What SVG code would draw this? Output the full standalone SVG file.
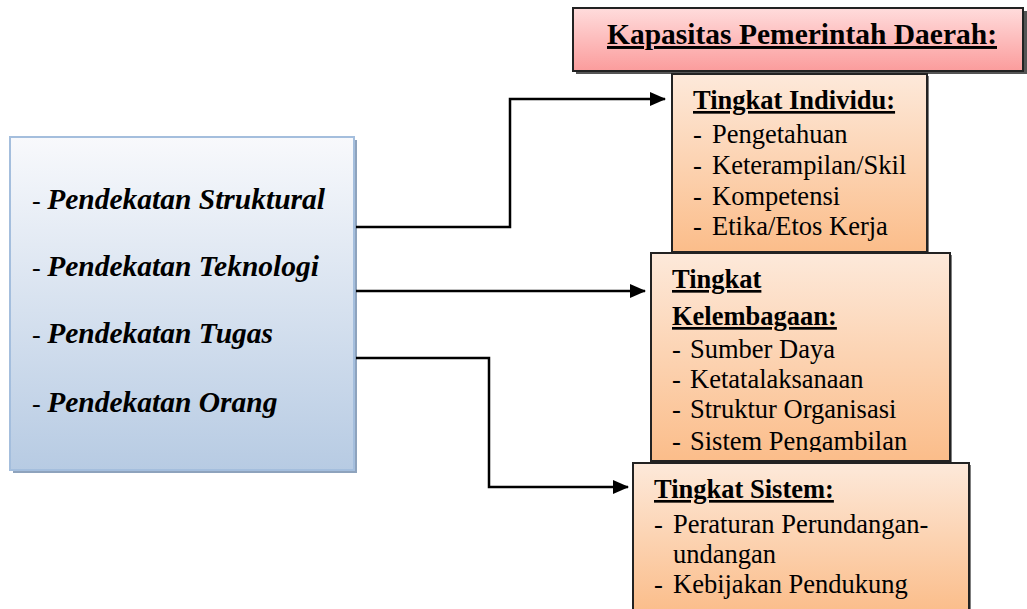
<svg xmlns="http://www.w3.org/2000/svg" width="1027" height="609" viewBox="0 0 1027 609">
<defs>
<linearGradient id="gPink" x1="0" y1="0" x2="0" y2="1"><stop offset="0" stop-color="#ffdcdc"/><stop offset="1" stop-color="#fb9c9c"/></linearGradient>
<linearGradient id="gOrange" x1="0" y1="0" x2="0" y2="1"><stop offset="0" stop-color="#fde9da"/><stop offset="1" stop-color="#fbbd8a"/></linearGradient>
<linearGradient id="gBlue" x1="0" y1="0" x2="0" y2="1"><stop offset="0" stop-color="#f8f9fc"/><stop offset="1" stop-color="#b7cbe3"/></linearGradient>
<marker id="arr" markerWidth="16" markerHeight="14" refX="15" refY="7" orient="auto" markerUnits="userSpaceOnUse"><path d="M0,0 L16,7 L0,14 Z" fill="#000"/></marker>
<clipPath id="clipK"><rect x="651" y="253" width="299" height="199"/></clipPath>
<style>
.t{font-family:"Liberation Serif","Times New Roman",serif;fill:#000}
.h{font-weight:bold;text-decoration:underline}
.b{font-size:26.5px}
.l{font-size:29.5px;font-weight:bold;font-style:italic}
.d{font-size:26px;font-style:normal;font-weight:normal}
.conn{fill:none;stroke:#000;stroke-width:2.5}
.sh{fill:#7f7f7f}
.ob{fill:url(#gOrange);stroke:#222;stroke-width:2}
</style>
</defs>
<g id="approaches">
<rect x="13" y="140" width="344" height="333" fill="#8ea3bd"/>
<rect x="10" y="137" width="344" height="333" fill="url(#gBlue)" stroke="#a4bedd" stroke-width="2"/>
<text class="t l" x="32" y="209"><tspan class="d">- </tspan>Pendekatan Struktural</text>
<text class="t l" x="32" y="276"><tspan class="d">- </tspan>Pendekatan Teknologi</text>
<text class="t l" x="32" y="343"><tspan class="d">- </tspan>Pendekatan Tugas</text>
<text class="t l" x="32" y="412"><tspan class="d">- </tspan>Pendekatan Orang</text>
</g>
<g id="title">
<rect x="576" y="11" width="451" height="63" fill="#555"/>
<rect x="573" y="8" width="450" height="63" fill="url(#gPink)" stroke="#222" stroke-width="2"/>
<text class="t h" x="802" y="44" text-anchor="middle" font-size="29.5">Kapasitas Pemerintah Daerah:</text>
</g>
<g id="individu">
<rect x="674" y="76" width="255" height="178" class="sh"/>
<rect x="672" y="74" width="255" height="178" class="ob"/>
<text class="t h b" x="693" y="109">Tingkat Individu:</text>
<text class="t b" x="693" y="143">-<tspan x="712">Pengetahuan</tspan></text>
<text class="t b" x="693" y="174">-<tspan x="712">Keterampilan/Skil</tspan></text>
<text class="t b" x="693" y="205">-<tspan x="712">Kompetensi</tspan></text>
<text class="t b" x="693" y="235">-<tspan x="712">Etika/Etos Kerja</tspan></text>
</g>
<g id="kelembagaan">
<rect x="653" y="255" width="299" height="208" class="sh"/>
<rect x="651" y="253" width="299" height="208" class="ob"/>
<g clip-path="url(#clipK)">
<text class="t h b" x="672" y="288">Tingkat</text>
<text class="t h b" x="672" y="325">Kelembagaan:</text>
<text class="t b" x="672" y="358">-<tspan x="690">Sumber Daya</tspan></text>
<text class="t b" x="672" y="388">-<tspan x="690">Ketatalaksanaan</tspan></text>
<text class="t b" x="672" y="418">-<tspan x="690">Struktur Organisasi</tspan></text>
<text class="t b" x="672" y="450">-<tspan x="690">Sistem Pengambilan</tspan></text>
</g>
</g>
<g id="sistem">
<rect x="635" y="465" width="336" height="150" class="sh"/>
<rect x="633" y="463" width="336" height="150" class="ob"/>
<text class="t h b" x="654" y="498">Tingkat Sistem:</text>
<text class="t b" x="654" y="533">-<tspan x="673">Peraturan Perundangan-</tspan></text>
<text class="t b" x="673" y="563">undangan</text>
<text class="t b" x="654" y="593">-<tspan x="673">Kebijakan Pendukung</tspan></text>
</g>
<g id="connectors">
<path class="conn" d="M356,227 H510 V99 H665" marker-end="url(#arr)"/>
<path class="conn" d="M356,291 H645" marker-end="url(#arr)"/>
<path class="conn" d="M356,358 H489 V487 H628" marker-end="url(#arr)"/>
</g>
</svg>
